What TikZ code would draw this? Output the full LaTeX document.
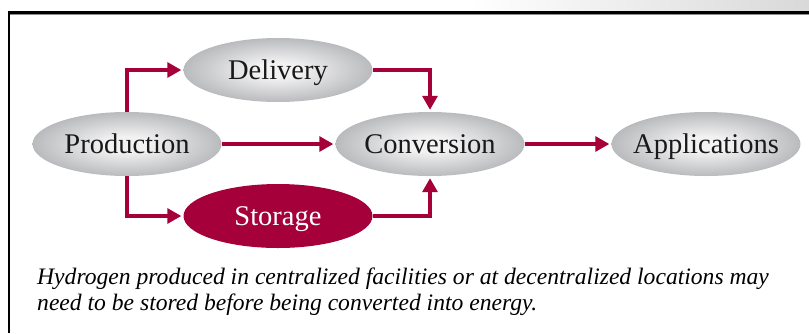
\documentclass[tikz,border=0pt]{standalone}
\usepackage{fontspec}
\setmainfont{Liberation Serif}
\usetikzlibrary{arrows.meta,shapes.geometric}
\definecolor{crim}{HTML}{A5003A}
\definecolor{ellc}{HTML}{F2F2F3}
\definecolor{elle}{HTML}{818387}
\pgfdeclareradialshading{ellshade}{\pgfpoint{0bp}{0bp}}{color(0bp)=(ellc); color(6bp)=(ellc); color(25bp)=(ellc!50!elle); color(50bp)=(elle)}
\tikzset{
  ellbase/.style={ellipse, inner xsep=-10pt, inner ysep=0pt, minimum width=189pt, minimum height=64pt,
    font=\fontsize{28.5}{30}\selectfont, text height=19pt, text depth=0pt},
  ell/.style={ellbase, shading=ellshade, text=black!90},
  redell/.style={ellbase, fill=crim, text=white},
  conn/.style={draw=crim, line width=3.2pt, -{Triangle[length=14pt,width=15pt]}, shorten >=2pt},
  captxt/.style={anchor=base west, inner sep=0pt, font=\fontsize{23.6}{28}\selectfont\itshape}
}
\begin{document}
\begin{tikzpicture}[x=1pt,y=-1pt]
\useasboundingbox (0,0) rectangle (809,333);
% frame
\shade[left color=white, right color=black!15] (470,0) rectangle (809,11);
\draw[black!45, line width=1pt] (10,14.5) -- (809,14.5);
\draw[line width=2.6pt] (7.7,12.5) -- (809,12.5);
\draw[line width=2.6pt] (9,11.2) -- (9,333);
% nodes
\node[ell] (prod) at (127,144) {Production};
\node[ell] (deliv) at (278,70) {Delivery};
\node[ell] (conv) at (430,144) {Conversion};
\node[redell] (stor) at (278,216) {Storage};
\node[ell] (app) at (706,144) {Applications};
% connectors
\draw[conn] (prod.north) |- (deliv.west);
\draw[conn] (prod.south) |- (stor.west);
\draw[conn] (prod.east) -- (conv.west);
\draw[conn] (deliv.east) -| (conv.north);
\draw[conn] (stor.east) -| (conv.south);
\draw[conn] (conv.east) -- (app.west);
% caption
\node[captxt] (cap1) at (37,284) {Hydrogen produced in centralized facilities or at decentralized locations may};
\node[captxt] (cap2) at (37,310) {need to be stored before being converted into energy.};
\end{tikzpicture}
\end{document}
